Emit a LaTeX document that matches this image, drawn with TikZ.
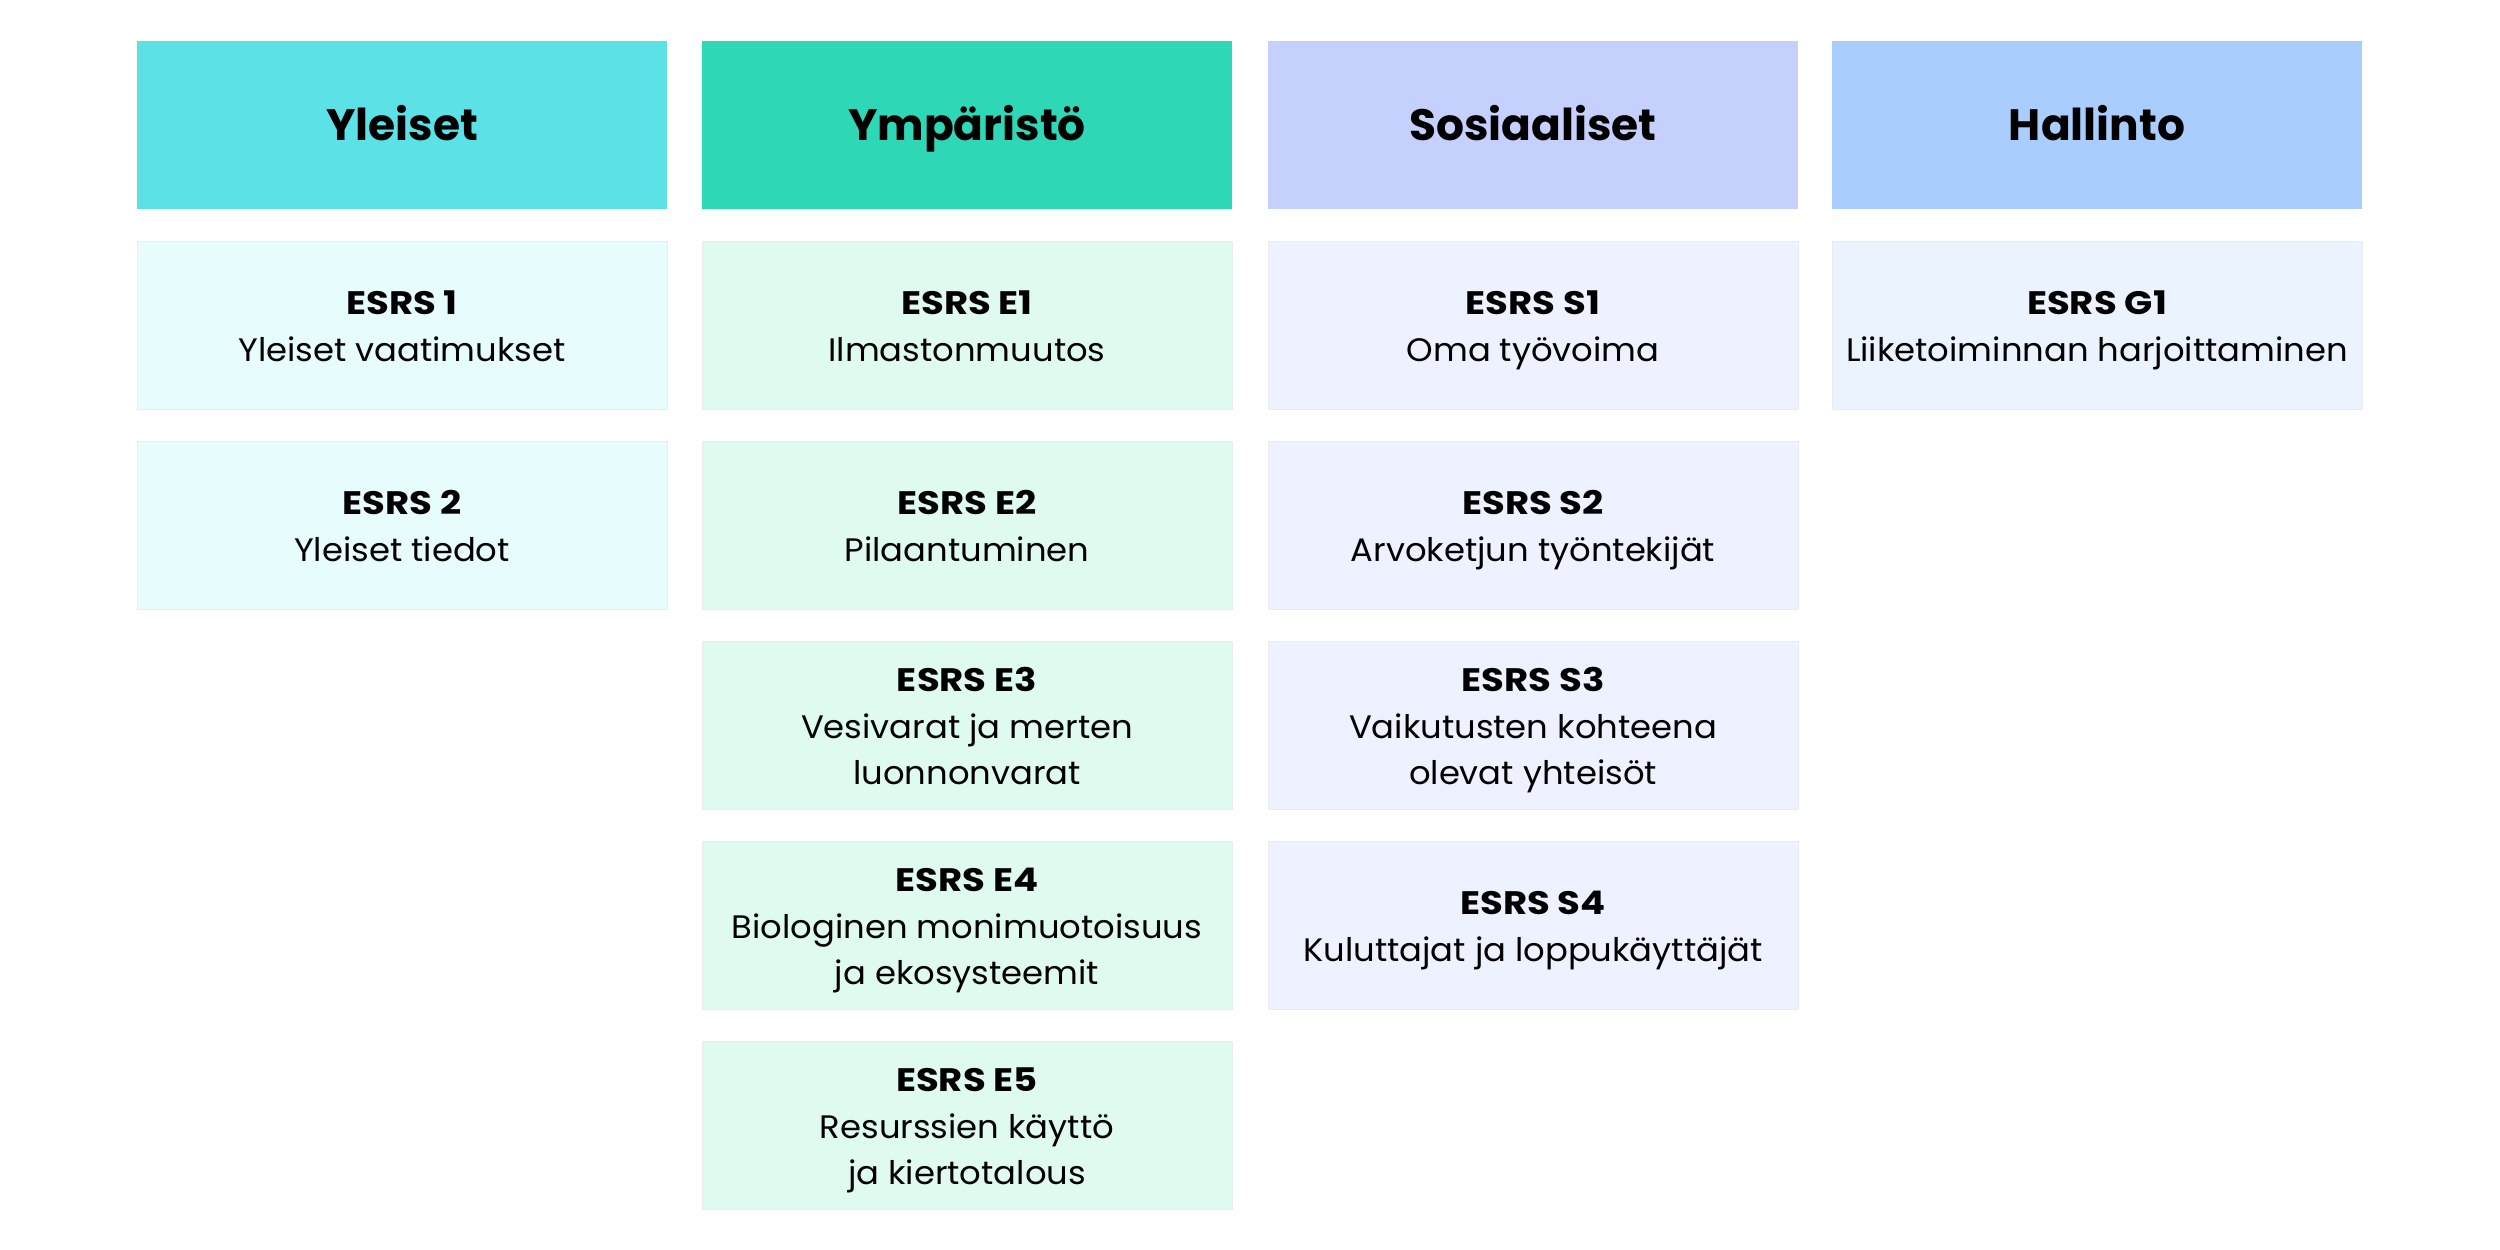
\documentclass[tikz,border=0pt]{standalone}
\usepackage{fontspec}
\setmainfont{Poppins}[FakeStretch=1.04]
\newfontfamily\headfont{Poppins}
\newfontfamily\titlefont{Poppins}[FakeStretch=1.14]
\definecolor{hA}{HTML}{5CE1E6}
\definecolor{hB}{HTML}{2ED8B6}
\definecolor{hC}{HTML}{C6D0FD}
\definecolor{hD}{HTML}{A9CEFE}
\definecolor{lA}{HTML}{E6FCFD}
\definecolor{lB}{HTML}{DFFBEF}
\definecolor{lC}{HTML}{EEF1FF}
\definecolor{lD}{HTML}{EBF3FF}
\definecolor{edge}{HTML}{E9ECEF}
\tikzset{
  box/.style={rectangle, inner sep=0pt, outer sep=0pt, minimum width=10.6cm, minimum height=3.36cm, align=center, text=black},
  headbox/.style={box, font=\headfont\fontsize{25}{30}\selectfont\bfseries},
  itembox/.style={box, draw=edge, line width=0.5pt, font=\fontsize{18.5}{26.5}\selectfont},
}
\newcommand{\hd}[1]{\rule{0pt}{24.5pt}\vphantom{ÄYg}#1}
\newcommand{\itm}[2]{{\titlefont\bfseries\rule{0pt}{20pt}\vphantom{Äg}#1}\\#2\vphantom{Äg}}
\begin{document}
\begin{tikzpicture}[x=0.02cm, y=-0.02cm]
\useasboundingbox[fill=white] (0,0) rectangle (2500,1250);
% headers
\node[headbox, fill=hA] (hyl) at (402,125) {\hd{Yleiset}};
\node[headbox, fill=hB] (hym) at (967,125) {\hd{Ympäristö}};
\node[headbox, fill=hC] (hso) at (1533,125) {\hd{Sosiaaliset}};
\node[headbox, fill=hD] (hha) at (2097,125) {\hd{Hallinto}};
% column 1
\node[itembox, fill=lA] (y1) at (402,325) {\itm{ESRS 1}{Yleiset vaatimukset}};
\node[itembox, fill=lA] (y2) at (402,525) {\itm{ESRS 2}{Yleiset tiedot}};
% column 2
\node[itembox, fill=lB] (e1) at (967,325) {\itm{ESRS E1}{Ilmastonmuutos}};
\node[itembox, fill=lB] (e2) at (967,525) {\itm{ESRS E2}{Pilaantuminen}};
\node[itembox, fill=lB] (e3) at (967,725) {\itm{ESRS E3}{Vesivarat ja merten\\luonnonvarat}};
\node[itembox, fill=lB] (e4) at (967,925) {\itm{ESRS E4}{Biologinen monimuotoisuus\\ja ekosysteemit}};
\node[itembox, fill=lB] (e5) at (967,1125) {\itm{ESRS E5}{Resurssien käyttö\\ja kiertotalous}};
% column 3
\node[itembox, fill=lC] (s1) at (1533,325) {\itm{ESRS S1}{Oma työvoima}};
\node[itembox, fill=lC] (s2) at (1533,525) {\itm{ESRS S2}{Arvoketjun työntekijät}};
\node[itembox, fill=lC] (s3) at (1533,725) {\itm{ESRS S3}{Vaikutusten kohteena\\olevat yhteisöt}};
\node[itembox, fill=lC] (s4) at (1533,925) {\itm{ESRS S4}{Kuluttajat ja loppukäyttäjät}};
% column 4
\node[itembox, fill=lD] (g1) at (2097,325) {\itm{ESRS G1}{Liiketoiminnan harjoittaminen}};
\end{tikzpicture}
\end{document}
